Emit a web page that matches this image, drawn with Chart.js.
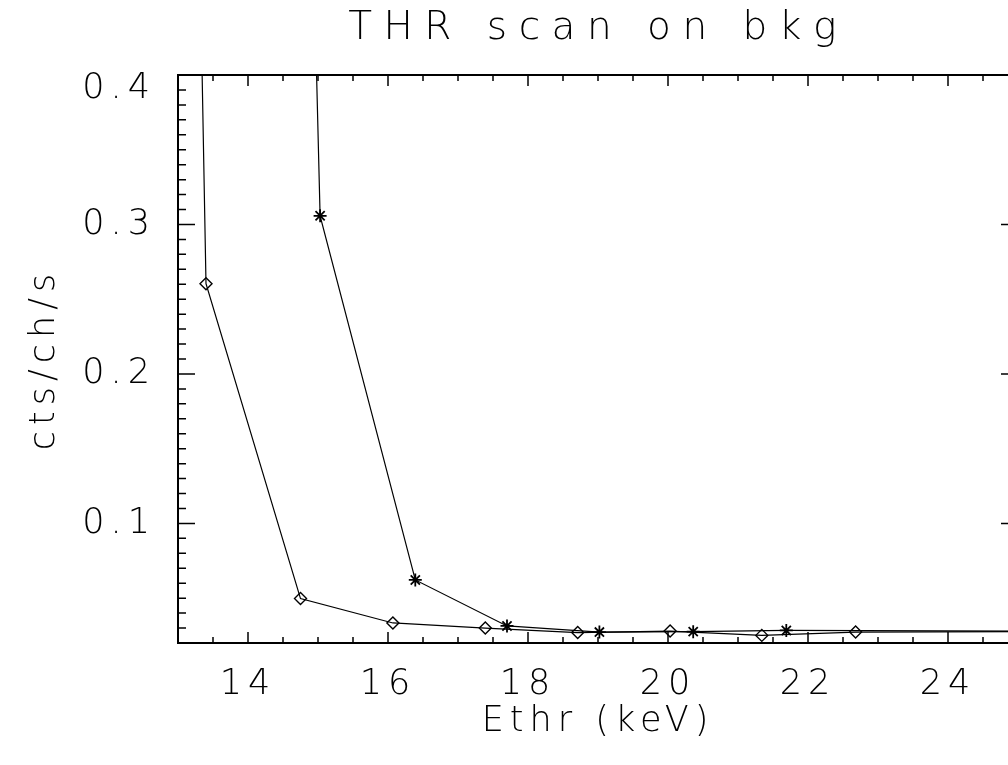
<!DOCTYPE html>
<html><head><meta charset="utf-8">
<script src="https://cdn.jsdelivr.net/npm/chart.js@4"></script>
<style>html,body{margin:0;padding:0;overflow:hidden;background:#fff;width:1008px;height:765px}canvas{display:block}</style>
</head><body>
<canvas id="c" width="1030" height="765"></canvas>
<script>
const chartTitle = 'THR scan on bkg';
const xAxisTitle = 'Ethr (keV)';
const yAxisTitle = 'cts/ch/s';
const xTickLabels = [14, 16, 18, 20, 22, 24];
const yTickLabels = [0.1, 0.2, 0.3, 0.4];
const xRange = [13, 25];
const yRange = [0.02, 0.4];
const diamondEnergy = [12.08, 13.40, 14.75, 16.07, 17.39, 18.71, 20.03, 21.34, 22.68, 26.0];
const diamondRate   = [3.6, 0.2604, 0.0497, 0.0334, 0.0300, 0.0270, 0.0280, 0.0251, 0.0273, 0.0278];
const starEnergy = [13.71, 15.03, 16.39, 17.70, 19.02, 20.36, 21.69, 25.7];
const starRate   = [2.78, 0.3058, 0.0622, 0.0314, 0.0273, 0.0276, 0.0284, 0.0278];

const FONT = '"DejaVu Sans"';
const W = '200';
const idlFrame = {
  id: 'idlFrame',
  beforeDraw(chart) { chart.ctx.letterSpacing = '11.5px'; },
  afterDatasetsDraw(chart) {
    const ctx = chart.ctx, a = chart.chartArea, xs = chart.scales.x, ys = chart.scales.y;
    ctx.save();
    ctx.letterSpacing = '0px';
    ctx.strokeStyle = '#000';
    ctx.lineWidth = 2;
    ctx.strokeRect(a.left, a.top, a.right - a.left, a.bottom - a.top);
    ctx.lineWidth = 1.5;
    ctx.beginPath();
    for (let k = xRange[0] * 2; k <= xRange[1] * 2; k++) {
      const v = k / 2;
      const major = xTickLabels.some(t => Math.abs(t - v) < 1e-6);
      const len = major ? 11 : 6;
      const px = xs.getPixelForValue(v);
      ctx.moveTo(px, a.bottom); ctx.lineTo(px, a.bottom - len);
      ctx.moveTo(px, a.top); ctx.lineTo(px, a.top + len);
    }
    for (let k = Math.round(yRange[0] * 100); k <= Math.round(yRange[1] * 100); k++) {
      const v = k / 100;
      const major = yTickLabels.some(t => Math.abs(t - v) < 1e-6);
      const len = major ? 17 : 8;
      const py = ys.getPixelForValue(v);
      ctx.moveTo(a.left, py); ctx.lineTo(a.left + len, py);
      ctx.moveTo(a.right, py); ctx.lineTo(a.right - len, py);
    }
    ctx.stroke();
    ctx.restore();
    ctx.letterSpacing = '6px';
  },
  afterDraw(chart) { chart.ctx.letterSpacing = '0px'; }
};

const toPts = (xs, ys) => xs.map((e, i) => ({x: e, y: ys[i]}));
const axisFont = {family: FONT, size: 35, weight: W, lineHeight: 1.2};

new Chart(document.getElementById('c'), {
  type: 'line',
  data: {
    datasets: [
      {data: toPts(diamondEnergy, diamondRate), borderColor: '#000', borderWidth: 1.2, tension: 0,
       pointStyle: 'rectRot', pointRadius: 6, pointBorderWidth: 1.4,
       pointBackgroundColor: 'rgba(0,0,0,0)', pointBorderColor: '#000'},
      {data: toPts(starEnergy, starRate), borderColor: '#000', borderWidth: 1.2, tension: 0,
       pointStyle: 'star', pointRadius: 6.5, pointBorderWidth: 1.8,
       pointBackgroundColor: 'rgba(0,0,0,0)', pointBorderColor: '#000'}
    ]
  },
  options: {
    responsive: false, animation: false, devicePixelRatio: 1,
    layout: {padding: {left: 0, right: 12, top: 0, bottom: 0}},
    plugins: {
      legend: {display: false}, tooltip: {enabled: false},
      title: {display: true, fullSize: false, text: chartTitle, color: '#000',
              font: {family: FONT, size: 39, weight: W, lineHeight: 1.2},
              padding: {top: 5.1, bottom: 23.1}}
    },
    scales: {
      x: {
        type: 'linear', min: xRange[0], max: xRange[1],
        afterBuildTicks: s => { s.ticks = xTickLabels.map(v => ({value: v})); },
        afterFit: s => { s.height = 122; },
        grid: {display: false, drawTicks: false, z: 1}, border: {display: false},
        ticks: {z: 1, padding: 21, color: '#000', font: axisFont, maxRotation: 0, autoSkip: false,
                callback: v => String(v)},
        title: {display: true, text: xAxisTitle, color: '#000', font: axisFont, padding: {top: 0, bottom: 22}}
      },
      y: {
        type: 'linear', min: yRange[0], max: yRange[1],
        afterBuildTicks: s => { s.ticks = yTickLabels.map(v => ({value: v})); },
        afterFit: s => { s.width = 178; },
        grid: {display: false, drawTicks: false, z: 1}, border: {display: false},
        ticks: {z: 1, padding: 22, color: '#000', autoSkip: false,
                font: c => ({family: FONT, size: 35, weight: W,
                             lineHeight: (c.tick && c.tick.value === yRange[1]) ? 0.77 : 1.2}),
                callback: v => v === yRange[1] ? ['', v.toFixed(1)] : v.toFixed(1)},
        title: {display: true, text: yAxisTitle, color: '#000', font: axisFont, padding: {top: 24, bottom: 0}}
      }
    }
  },
  plugins: [idlFrame]
});
</script>
</body></html>
